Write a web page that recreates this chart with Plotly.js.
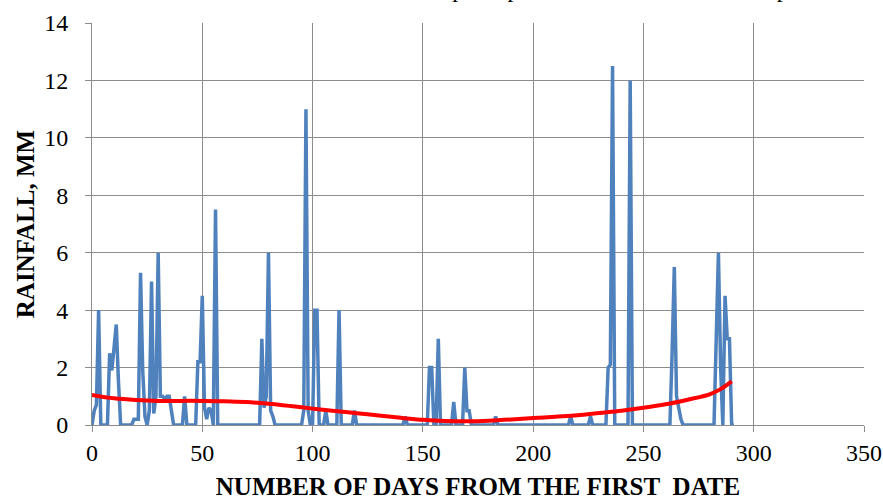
<!DOCTYPE html>
<html>
<head>
<meta charset="utf-8">
<script src="https://cdn.plot.ly/plotly-3.0.1.min.js"></script>
<style>
  html, body { margin: 0; padding: 0; background: #ffffff; }
  #chart { width: 883px; height: 501px; }
</style>
</head>
<body>
<div id="chart"></div>
<script>
// Daily rainfall (mm), day 0 .. day 291
const rainfall = [
  0, 0.5, 0.7, 4.0, 0, 0, 0, 0, 2.5, 1.9,
  2.7, 3.5, 1.5, 0, 0, 0, 0, 0, 0, 0.2,
  0.2, 0.2, 5.3, 1.9, 0.3, 0, 0.5, 5.0, 0.4, 1.0,
  6.0, 1.0, 1.0, 0.9, 1.0, 1.0, 0.5, 0, 0, 0,
  0, 0, 1.0, 0, 0, 0, 0, 0, 2.2, 2.2,
  4.5, 0.6, 0.2, 0.6, 0.5, 0, 7.5, 0, 0, 0,
  0, 0, 0, 0, 0, 0, 0, 0, 0, 0,
  0, 0, 0, 0, 0, 0, 0, 3.0, 0.6, 1.0,
  6.0, 0.5, 0.3, 0, 0, 0, 0, 0, 0, 0,
  0, 0, 0, 0, 0, 0, 0.5, 11.0, 0.5, 0,
  0, 4.0, 4.0, 0, 0, 0, 0.5, 0, 0, 0,
  0, 0, 4.0, 0, 0, 0, 0, 0, 0, 0.5,
  0, 0, 0, 0, 0, 0, 0, 0, 0, 0,
  0, 0, 0, 0, 0, 0, 0, 0, 0, 0,
  0, 0, 0.3, 0, 0, 0, 0, 0, 0, 0,
  0, 0, 0, 2.0, 2.0, 0, 0, 3.0, 0, 0,
  0, 0, 0, 0, 0.8, 0, 0, 0, 0, 2.0,
  0.5, 0.5, 0, 0, 0, 0, 0, 0, 0, 0,
  0, 0, 0, 0.3, 0, 0, 0, 0, 0, 0,
  0, 0, 0, 0, 0, 0, 0, 0, 0, 0,
  0, 0, 0, 0, 0, 0, 0, 0, 0, 0,
  0, 0, 0, 0, 0, 0, 0, 0.3, 0, 0,
  0, 0, 0, 0, 0, 0, 0.3, 0, 0, 0,
  0, 0, 0, 0, 2.0, 2.1, 12.5, 0, 0, 0,
  0, 0, 0, 0, 12.0, 0, 0, 0, 0, 0,
  0, 0, 0, 0, 0, 0, 0, 0, 0, 0,
  0, 0, 0, 2.5, 5.5, 1.0, 0.5, 0.2, 0, 0,
  0, 0, 0, 0, 0, 0, 0, 0, 0, 0,
  0, 0, 0, 3.0, 6.0, 2.0, 0, 4.5, 3.0, 3.0,
  0, 0
];
const firstDay = 0;

// Trend line
const trendDays   = [0, 10, 20, 30, 40, 50, 60, 70, 80, 90, 100, 110, 120, 130, 140, 150, 160, 170, 180, 190, 200, 210, 220, 230, 240, 250, 260, 270, 280, 285, 290];
const trendValues = [1.05, 0.93, 0.87, 0.84, 0.84, 0.84, 0.83, 0.80, 0.74, 0.66, 0.57, 0.49, 0.41, 0.33, 0.25, 0.18, 0.14, 0.13, 0.15, 0.19, 0.24, 0.29, 0.34, 0.42, 0.50, 0.60, 0.72, 0.88, 1.07, 1.25, 1.52];

const xTicks = [0, 50, 100, 150, 200, 250, 300, 350];
const yTicks = [0, 2, 4, 6, 8, 10, 12, 14];

const titleText = "Temporal plot of rainfall and the total period of record";
const xTitle = "NUMBER OF DAYS FROM THE FIRST&nbsp; DATE";
const yTitle = "RAINFALL, MM";

const FONT = "Liberation Serif, Times New Roman, serif";
const GRID = "#8C8C8C";

const traces = [
  {
    type: "scatter", mode: "lines",
    x0: firstDay, dx: 1, y: rainfall,
    line: { color: "#4F81BD", width: 3.5 },
    hoverinfo: "skip"
  },
  {
    type: "scatter", mode: "lines",
    x: trendDays, y: trendValues,
    line: { color: "#FF0000", width: 4, shape: "spline" },
    hoverinfo: "skip"
  }
];

const layout = {
  width: 883, height: 501,
  margin: { l: 92, r: 19, t: 23, b: 76 },
  paper_bgcolor: "#ffffff", plot_bgcolor: "#ffffff",
  showlegend: false,
  font: { family: FONT, color: "#000000" },
  annotations: [{
    text: titleText,
    font: { family: FONT, size: 24, color: "#000000" },
    xref: "paper", yref: "paper",
    x: (409 - 92) / (883 - 92 - 19), xanchor: "left",
    y: 1, yanchor: "bottom", yshift: 20,
    showarrow: false, borderpad: 0
  }],
  xaxis: {
    range: [0, 350], tickmode: "array", tickvals: xTicks, ticktext: xTicks.map(String),
    showgrid: true, gridcolor: GRID, gridwidth: 1,
    showline: true, linecolor: GRID, linewidth: 1,
    zeroline: false,
    ticks: "outside", ticklen: 6, tickcolor: GRID,
    ticklabelstandoff: 0,
    tickfont: { family: FONT, size: 24, color: "#000000" },
    title: { text: "<b>" + xTitle + "</b>", font: { family: FONT, size: 25, color: "#000000" }, standoff: 12 },
    automargin: false
  },
  yaxis: {
    range: [0, 14], tickmode: "array", tickvals: yTicks, ticktext: yTicks.map(String),
    showgrid: true, gridcolor: GRID, gridwidth: 1,
    showline: true, linecolor: GRID, linewidth: 1,
    zeroline: false,
    ticks: "outside", ticklen: 6, tickcolor: GRID,
    ticklabelstandoff: 12,
    tickfont: { family: FONT, size: 24, color: "#000000" },
    title: { text: "<b>" + yTitle + "</b>", font: { family: FONT, size: 25, color: "#000000" }, standoff: 2 },
    automargin: false
  }
};

Plotly.newPlot("chart", traces, layout, { staticPlot: true, displayModeBar: false });
</script>
</body>
</html>
